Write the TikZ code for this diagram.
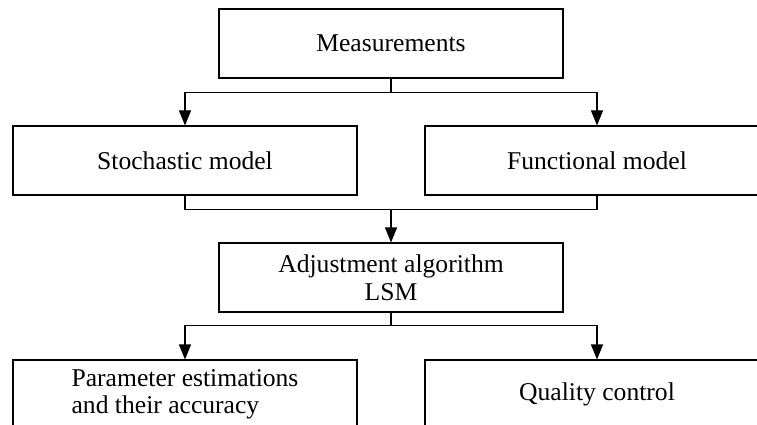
\documentclass[tikz,border=0pt]{standalone}
\usepackage{fontspec}
\setmainfont{Liberation Serif}
\usetikzlibrary{arrows.meta}
\begin{document}
\begin{tikzpicture}[x=1pt,y=-1pt,
  box/.style={draw, line width=1.1pt, minimum width=344pt, minimum height=69pt, inner sep=0pt,
    font=\fontsize{25.6}{27.5}\selectfont},
  link/.style={line width=1.1pt},
  arr/.style={line width=1.1pt, -{Triangle[length=15pt,width=12pt]}}]
\useasboundingbox (0,0) rectangle (757,425);
\clip (0,0) rectangle (757,425);
\node[box] (meas) at (391,43.5) {Measurements};
\node[box] (stoch) at (185,160.5) {Stochastic model};
\node[box] (func) at (597,160.5) {Functional model};
\node[box, align=center] (adj) at (391,277.5) {Adjustment algorithm\\LSM};
\node[box, align=left] (param) at (185,394.5) {Parameter estimations\\and their accuracy};
\node[box] (qual) at (597,394.5) {Quality control};
\draw[link] (meas.south) -- ++(0,14) coordinate (j0);
\draw[arr] (j0) -| (stoch.north);
\draw[arr] (j0) -| (func.north);
\draw[link] (stoch.south) -- ++(0,14) coordinate (j1) -| (func.south);
\draw[arr] (j1 -| adj.north) -- (adj.north);
\draw[link] (adj.south) -- ++(0,13) coordinate (j2);
\draw[arr] (j2) -| (param.north);
\draw[arr] (j2) -| (qual.north);
\end{tikzpicture}
\end{document}
